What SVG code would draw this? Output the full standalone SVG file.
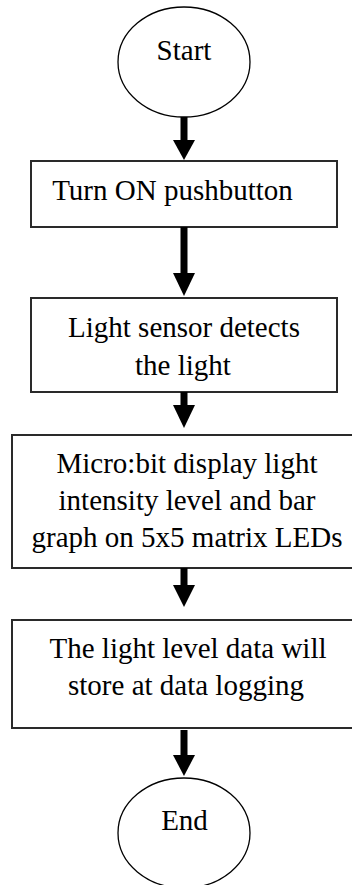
<svg xmlns="http://www.w3.org/2000/svg" width="352" height="885" viewBox="0 0 352 885">
<style>
.t{font-family:"Liberation Serif","Times New Roman",serif;font-size:29px;fill:#000;text-anchor:middle}
.box{fill:#fff;stroke:#2a2a2a;stroke-width:2}
.ell{fill:#fff;stroke:#000;stroke-width:1.3}
.sh{stroke:#000;stroke-width:7;fill:none}
.hd{fill:#000}
</style>
<rect width="352" height="885" fill="#fff"/>
<g id="start">
<ellipse class="ell" cx="184" cy="62" rx="66" ry="55"/>
<text class="t" x="184" y="60">Start</text>
</g>
<g id="turn-on">
<rect class="box" x="31" y="161" width="306" height="66"/>
<text class="t" x="172.5" y="200">Turn ON pushbutton</text>
</g>
<g id="light-sensor">
<rect class="box" x="31" y="298" width="306" height="94"/>
<text class="t" x="184" y="337">Light sensor detects</text>
<text class="t" x="183" y="375">the light</text>
</g>
<g id="display">
<rect class="box" x="12" y="435" width="343" height="133"/>
<text class="t" x="187" y="473">Micro:bit display light</text>
<text class="t" x="187" y="510">intensity level and bar</text>
<text class="t" x="187" y="547">graph on 5x5 matrix LEDs</text>
</g>
<g id="store">
<rect class="box" x="12" y="620" width="343" height="108"/>
<text class="t" x="188" y="658">The light level data will</text>
<text class="t" x="186" y="695">store at data logging</text>
</g>
<g id="end">
<ellipse class="ell" cx="184" cy="833" rx="66" ry="55"/>
<text class="t" x="184.5" y="830">End</text>
</g>
<g id="connectors">
<line class="sh" x1="184" y1="117" x2="184" y2="142"/>
<polygon class="hd" points="173,140 195,140 184,160"/>
<line class="sh" x1="184" y1="227" x2="184" y2="275"/>
<polygon class="hd" points="173,273 195,273 184,296"/>
<line class="sh" x1="184" y1="392" x2="184" y2="407"/>
<polygon class="hd" points="173,405 195,405 184,428"/>
<line class="sh" x1="184" y1="568" x2="184" y2="587"/>
<polygon class="hd" points="173,585 195,585 184,607"/>
<line class="sh" x1="184" y1="730" x2="184" y2="757"/>
<polygon class="hd" points="173,755 195,755 184,776"/>
</g>
</svg>
